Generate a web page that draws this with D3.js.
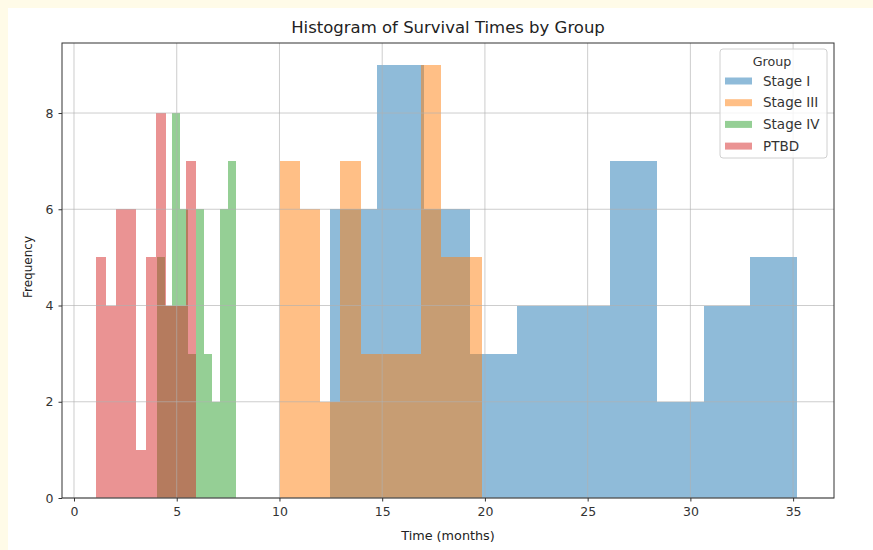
<!DOCTYPE html>
<html>
<head>
<meta charset="utf-8">
<script src="https://cdn.jsdelivr.net/npm/d3@7"></script>
<style>
  body { margin: 0; background: #fffbe8; }
  svg { display: block; font-family: "DejaVu Sans", sans-serif; }
</style>
</head>
<body>
<div id="chart"></div>
<script>
// histogram counts, 10 bins per group
var groups = ["Stage I", "Stage III", "Stage IV", "PTBD"];
var stageICounts = [6, 9, 6, 3, 4, 4, 7, 2, 4, 5];
var stageIIICounts = [7, 6, 2, 7, 3, 3, 3, 9, 5, 5];
var stageIVCounts = [5, 4, 8, 6, 3, 6, 3, 2, 6, 7];
var ptbdCounts = [5, 4, 6, 6, 1, 5, 8, 4, 4, 7];
// min / max survival time of each group = outer bin edges
var stageIRange = [12.48, 35.18];
var stageIIIRange = [10.01, 19.85];
var stageIVRange = [4.02, 7.88];
var ptbdRange = [1.07, 5.93];

var xTicks = [0, 5, 10, 15, 20, 25, 30, 35];
var yTicks = [0, 2, 4, 6, 8];

var palette = ["#1f77b4", "#ff7f0e", "#2ca02c", "#d62728"];

var series = [
    { name: groups[0], counts: stageICounts, range: stageIRange },
    { name: groups[1], counts: stageIIICounts, range: stageIIIRange },
    { name: groups[2], counts: stageIVCounts, range: stageIVRange },
    { name: groups[3], counts: ptbdCounts, range: ptbdRange }
];

const W = 873, H = 550;
const plot = { left: 62, right: 834, top: 43, bottom: 498 };

var svg = d3.select("#chart").append("svg")
    .attr("width", W)
    .attr("height", H);

// white figure with the thin yellow page strip showing top/left
svg.append("rect").attr("x", 8).attr("y", 8)
    .attr("width", W - 8).attr("height", H - 8)
    .attr("fill", "#ffffff");

var x = d3.scaleLinear().domain([-0.584, 36.99]).range([plot.left, plot.right]);
var y = d3.scaleLinear().domain([0, 9.455]).range([plot.bottom, plot.top]);

// bars
series.forEach(function(s, gi) {
    var n = s.counts.length;
    var step = (s.range[1] - s.range[0]) / n;
    var bins = s.counts.map(function(c, i) {
        return { x0: s.range[0] + i * step, x1: s.range[0] + (i + 1) * step, count: c };
    });
    svg.append("g")
        .selectAll("rect")
        .data(bins)
        .join("rect")
        .attr("x", function(d) { return x(d.x0); })
        .attr("width", function(d) { return x(d.x1) - x(d.x0); })
        .attr("y", function(d) { return y(d.count); })
        .attr("height", function(d) { return y(0) - y(d.count); })
        .attr("fill", palette[gi])
        .attr("fill-opacity", 0.5)
        .attr("shape-rendering", "crispEdges");
});

// grid
var grid = svg.append("g").attr("stroke", "#b0b0b0").attr("stroke-width", 0.8).attr("stroke-opacity", 0.8);
grid.selectAll(".gx").data(xTicks).join("line")
    .attr("x1", function(d) { return x(d); }).attr("x2", function(d) { return x(d); })
    .attr("y1", plot.top).attr("y2", plot.bottom);
grid.selectAll(".gy").data(yTicks).join("line")
    .attr("y1", function(d) { return y(d); }).attr("y2", function(d) { return y(d); })
    .attr("x1", plot.left).attr("x2", plot.right);

// axes
var xAxis = svg.append("g")
    .attr("transform", "translate(0," + plot.bottom + ")")
    .call(d3.axisBottom(x).tickValues(xTicks).tickSize(3.5).tickPadding(6));
var yAxis = svg.append("g")
    .attr("transform", "translate(" + plot.left + ",0)")
    .call(d3.axisLeft(y).tickValues(yTicks).tickSize(3.5).tickPadding(5));
[xAxis, yAxis].forEach(function(a) {
    a.select(".domain").remove();
    a.selectAll("line").attr("stroke", "#333");
    a.selectAll("text").attr("fill", "#333").style("font-size", "12.5px")
        .style("font-family", "DejaVu Sans, sans-serif");
});

// spines
svg.append("rect")
    .attr("x", plot.left).attr("y", plot.top)
    .attr("width", plot.right - plot.left).attr("height", plot.bottom - plot.top)
    .attr("fill", "none").attr("stroke", "#333").attr("stroke-width", 1);

// labels
svg.append("text")
    .attr("x", (plot.left + plot.right) / 2).attr("y", 33)
    .attr("text-anchor", "middle").attr("fill", "#222")
    .style("font-size", "16.5px")
    .text("Histogram of Survival Times by Group");
svg.append("text")
    .attr("x", (plot.left + plot.right) / 2).attr("y", 540)
    .attr("text-anchor", "middle").attr("fill", "#222")
    .style("font-size", "12.8px")
    .text("Time (months)");
svg.append("text")
    .attr("transform", "translate(32,267) rotate(-90)")
    .attr("text-anchor", "middle").attr("fill", "#222")
    .style("font-size", "12px")
    .text("Frequency");

// legend
var lg = svg.append("g").attr("transform", "translate(720,49)");
lg.append("rect")
    .attr("width", 107).attr("height", 109).attr("rx", 3)
    .attr("fill", "#fff").attr("fill-opacity", 0.8)
    .attr("stroke", "#d0d0d0");
lg.append("text")
    .attr("x", 52).attr("y", 17)
    .attr("text-anchor", "middle").attr("fill", "#333")
    .style("font-size", "12.7px")
    .text("Group");
var items = lg.selectAll(".item").data(groups).join("g")
    .attr("transform", function(d, i) { return "translate(0," + (31.5 + i * 21.7) + ")"; });
items.append("rect")
    .attr("x", 5).attr("y", -3).attr("width", 27).attr("height", 7)
    .attr("fill", function(d, i) { return palette[i]; })
    .attr("fill-opacity", 0.5);
items.append("text")
    .attr("x", 43).attr("y", 5)
    .attr("fill", "#333")
    .style("font-size", "13.5px")
    .text(function(d) { return d; });
</script>
</body>
</html>
